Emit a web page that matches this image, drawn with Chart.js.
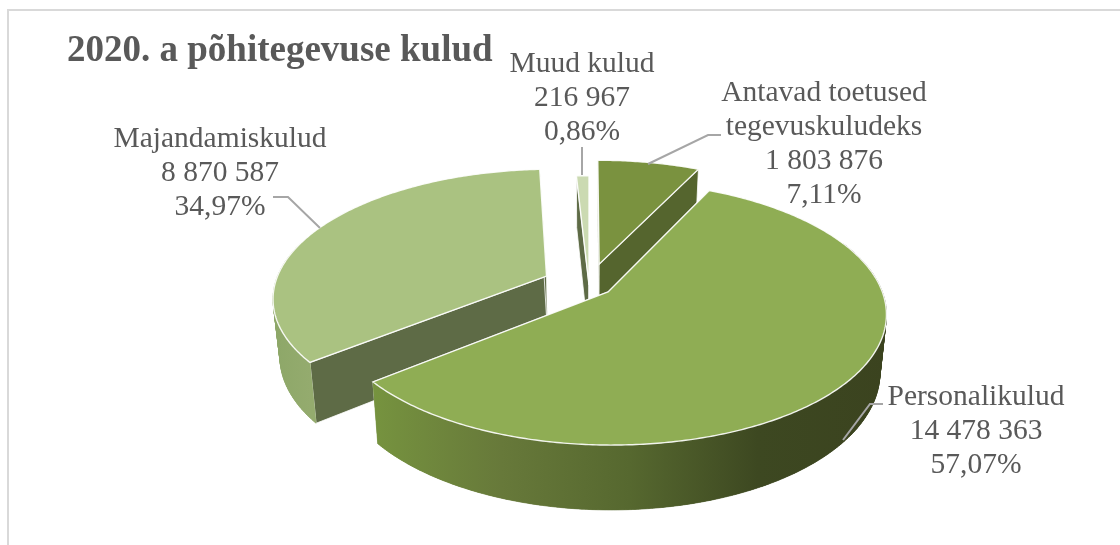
<!DOCTYPE html>
<html>
<head>
<meta charset="utf-8">
<style>
html, body { margin: 0; padding: 0; background: #fff; }
canvas { display: block; }
</style>
<script src="https://cdn.jsdelivr.net/npm/chart.js@4"></script>
</head>
<body>
<canvas id="myChart" width="1120" height="545"></canvas>
<script>
var chartTitle = "2020. a põhitegevuse kulud";
var categories = ["Antavad toetused tegevuskuludeks", "Personalikulud", "Majandamiskulud", "Muud kulud"];
var amounts = [1803876, 14478363, 8870587, 216967];
var amountLabels = ["1 803 876", "14 478 363", "8 870 587", "216 967"];
var percentLabels = ["7,11%", "57,07%", "34,97%", "0,86%"];

var topColors = ["#7a923f", "#8fad54", "#aac281", "#cbdab2"];
var cutColors = ["#55652e", "#3b431f", "#5e6b46", "#5e6b46"];
var wallColors = [
    ["#55652e", "#55652e"],
    ["#76933f", "#67793a", "#56682f", "#3d4821", "#3b431f"],
    ["#8da768", "#94ab6e"],
    ["#5e6b46", "#5e6b46"]
];
// chart.js divides offset by 4 when it moves a slice
var offsets = [188, 96, 188, 0];

// view of the tilted pie
var view = { x: 589, y: 285, tilt: 0.465, persp: 0.158, depth: 57, sink: 0.978, radius: 272 };
var drawOrder = [3, 0, 2, 1];

// text blocks and leader lines
var textBlocks = [
    { x: 824, y: 93, lines: ["Antavad toetused", "tegevuskuludeks", amountLabels[0], percentLabels[0]] },
    { x: 976, y: 397, lines: [categories[1], amountLabels[1], percentLabels[1]] },
    { x: 220, y: 139, lines: [categories[2], amountLabels[2], percentLabels[2]] },
    { x: 582, y: 64, lines: [categories[3], amountLabels[3], percentLabels[3]] }
];
var leaders = [
    [[721, 135], [708, 135], [648, 164]],
    [[883, 404], [870, 404], [843, 440]],
    [[273, 197], [288, 197], [320, 228]],
    [[582, 147], [582, 175]]
];

function project(fx, fy, down) {
    // fy is positive towards the viewer
    var s = 1 / (1 - view.persp * fy / view.radius);
    var f = down ? view.sink : 1;
    return { x: view.x + fx * s * f, y: view.y + fy * view.tilt * s * f + (down ? view.depth * s : 0) };
}

function tracePath(ctx, pts) {
    ctx.beginPath();
    pts.forEach(function (p, i) {
        if (i == 0) ctx.moveTo(p.x, p.y); else ctx.lineTo(p.x, p.y);
    });
    ctx.closePath();
}

function drawSlice(ctx, arc, i) {
    var mid = (arc.startAngle + arc.endAngle) / 2;
    var off = arc.options.offset / 4;
    var ox = Math.cos(mid) * off, oy = Math.sin(mid) * off;
    var r = arc.outerRadius;

    var rim = [];
    var steps = Math.max(4, Math.ceil((arc.endAngle - arc.startAngle) * 90));
    for (var k = 0; k <= steps; k++) {
        var a = arc.startAngle + (arc.endAngle - arc.startAngle) * k / steps;
        rim.push({ fx: ox + Math.cos(a) * r, fy: oy + Math.sin(a) * r });
    }
    var first = rim[0], last = rim[rim.length - 1];

    // cut faces
    [first, last].forEach(function (e) {
        tracePath(ctx, [project(ox, oy), project(e.fx, e.fy), project(e.fx, e.fy, true), project(ox, oy, true)]);
        ctx.fillStyle = cutColors[i];
        ctx.fill();
        ctx.strokeStyle = "rgba(255,255,255,0.8)";
        ctx.lineWidth = 1;
        ctx.stroke();
    });

    // outer wall: strips give the side outline, one polygon over them hides the seams
    var front = rim.filter(function (p) { return p.fy > -0.35 * view.radius; });
    if (front.length > 1) {
        var tops = front.map(function (p) { return project(p.fx, p.fy); });
        var bottoms = front.map(function (p) { return project(p.fx, p.fy, true); });
        var xs = tops.map(function (p) { return p.x; });
        var grad = ctx.createLinearGradient(Math.min.apply(null, xs), 0, Math.max.apply(null, xs), 0);
        wallColors[i].forEach(function (c, n) { grad.addColorStop(n / (wallColors[i].length - 1), c); });
        ctx.fillStyle = grad;
        ctx.strokeStyle = grad;
        ctx.lineWidth = 0.6;
        for (var n = 0; n < tops.length - 1; n++) {
            tracePath(ctx, [tops[n], tops[n + 1], bottoms[n + 1], bottoms[n]]);
            ctx.fill();
            ctx.stroke();
        }
        tracePath(ctx, tops.concat(bottoms.slice().reverse()));
        ctx.fill();
    }

    // top
    var top = [project(ox, oy)].concat(rim.map(function (p) { return project(p.fx, p.fy); }));
    tracePath(ctx, top);
    ctx.fillStyle = topColors[i];
    ctx.fill();
    ctx.strokeStyle = "rgba(255,255,255,0.9)";
    ctx.lineWidth = 1.4;
    ctx.stroke();
}

var tiltedPie = {
    id: "tiltedPie",
    beforeDraw: function (chart) {
        var ctx = chart.ctx;
        ctx.save();
        ctx.strokeStyle = "#d9d9d9";
        ctx.lineWidth = 2;
        ctx.beginPath();
        ctx.moveTo(8, 545);
        ctx.lineTo(8, 10);
        ctx.lineTo(1120, 10);
        ctx.stroke();
        ctx.restore();
    },
    beforeDatasetsDraw: function (chart) {
        var ctx = chart.ctx;
        var arcs = chart.getDatasetMeta(0).data;
        ctx.save();
        drawOrder.forEach(function (i) { drawSlice(ctx, arcs[i], i); });
        ctx.restore();
        return false;
    },
    afterDraw: function (chart) {
        var ctx = chart.ctx;
        ctx.save();
        leaders.forEach(function (line) {
            ctx.beginPath();
            line.forEach(function (p, n) {
                if (n == 0) ctx.moveTo(p[0], p[1]); else ctx.lineTo(p[0], p[1]);
            });
            ctx.strokeStyle = "#a6a6a6";
            ctx.lineWidth = 2;
            ctx.stroke();
        });
        ctx.fillStyle = "#595959";
        ctx.font = "29.5px 'Liberation Serif'";
        ctx.textAlign = "center";
        ctx.textBaseline = "middle";
        textBlocks.forEach(function (b) {
            b.lines.forEach(function (t, n) {
                ctx.fillText(t, b.x, b.y + n * 34);
            });
        });
        ctx.restore();
    }
};

new Chart("myChart", {
    type: "pie",
    plugins: [tiltedPie],
    data: {
        labels: categories,
        datasets: [{
            data: amounts,
            backgroundColor: topColors,
            offset: offsets,
            borderWidth: 0
        }]
    },
    options: {
        responsive: false,
        animation: false,
        radius: view.radius,
        layout: { padding: { left: 67, top: 29 } },
        plugins: {
            legend: { display: false },
            tooltip: { enabled: false },
            title: {
                display: true,
                text: chartTitle,
                align: "start",
                color: "#595959",
                font: { family: "'Liberation Serif'", size: 37, weight: "bold" },
                padding: 0
            }
        }
    }
});
</script>
</body>
</html>
